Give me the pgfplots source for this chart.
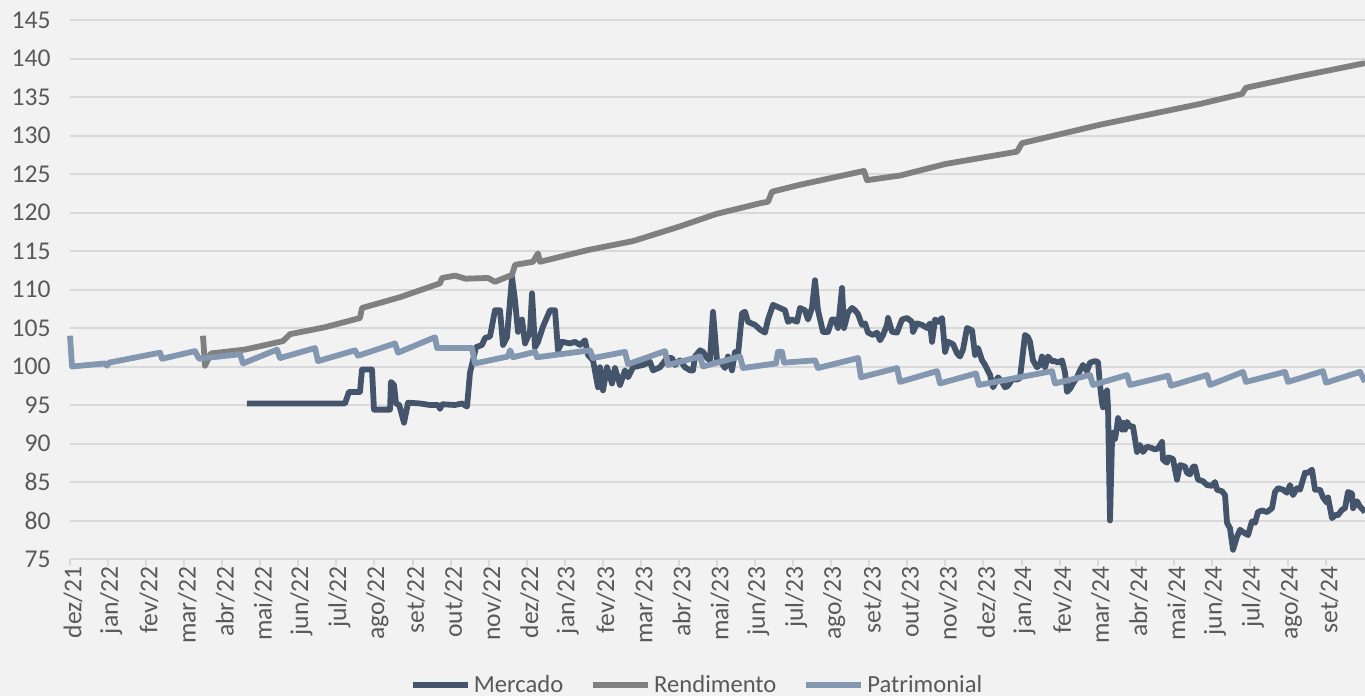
\documentclass[border=0pt]{standalone}
\usepackage{fontspec}
\setmainfont{Carlito}
\usepackage{pgfplots}
\pgfplotsset{compat=1.18}
\definecolor{bgc}{HTML}{F2F2F2}
\definecolor{gridc}{HTML}{D9D9D9}
\definecolor{txtc}{HTML}{595959}
\definecolor{merc}{HTML}{44546A}
\definecolor{rend}{HTML}{808080}
\definecolor{patr}{HTML}{8497B0}
\begin{document}
\begin{tikzpicture}
\path[use as bounding box, fill=bgc] (-35pt,-68.5pt) rectangle (647.5pt,279.5pt);
\begin{axis}[
  scale only axis, width=647.5pt, height=269.5pt,
  xmin=0, xmax=34.025, ymin=75, ymax=145,
  clip=false,
  axis x line*=bottom, axis y line*=left,
  x axis line style={draw=gridc, line width=1pt, -},
  y axis line style={draw=none},
  xtick={0,...,33},
  xticklabels={dez/21,jan/22,fev/22,mar/22,abr/22,mai/22,jun/22,jul/22,ago/22,set/22,out/22,nov/22,dez/22,jan/23,fev/23,mar/23,abr/23,mai/23,jun/23,jul/23,ago/23,set/23,out/23,nov/23,dez/23,jan/24,fev/24,mar/24,abr/24,mai/24,jun/24,jul/24,ago/24,set/24},
  tick align=outside, major tick length=3.5pt,
  xtick style={draw=gridc, line width=1pt},
  ytick={75,80,...,145}, ytick style={draw=none},
  ymajorgrids, grid style={draw=gridc, line width=1pt},
  tick label style={font=\fontsize{12.8}{14}\selectfont, text=txtc},
  /pgf/number format/assume math mode=true,
  xticklabel style={rotate=90, anchor=east, inner sep=0pt, yshift=-1.5pt},
  yticklabel style={anchor=east, inner sep=0pt, xshift=-6pt},
  legend style={at={(axis description cs:0.4846,-0.2338)}, anchor=center, draw=none, fill=none,
    legend columns=3, font=\fontsize{12.3}{14}\selectfont, text=txtc,
    nodes={inner sep=1.5pt},
    /tikz/every even column/.append style={column sep=12pt}},
  legend image code/.code={\draw[#1, line width=3pt] (0pt,0pt) -- (27.5pt,0pt);},
  every axis plot/.append style={line width=2.9pt, line join=round, mark=none},
]
\addplot[merc] coordinates {
(4.650,95.2)(7.225,95.2)(7.330,96.7)(7.619,96.7)(7.672,99.6)(7.935,99.6)(7.987,94.4)(8.408,94.4)(8.434,98.0)(8.513,97.6)(8.565,95.2)(8.65,95.0)(8.776,92.7)(8.881,95.3)(9.196,95.2)(9.459,95.0)(9.669,95.0)(9.721,94.5)(9.774,95.1)(10.115,95.0)(10.299,95.2)(10.431,94.8)(10.510,99.2)(10.588,100.8)(10.667,102.5)(10.825,102.8)(10.904,103.7)(11.035,103.9)(11.166,107.3)(11.298,107.3)(11.377,102.8)(11.482,103.8)(11.613,111.6)(11.692,108.6)(11.771,104.5)(11.876,106.1)(11.955,103.0)(12.086,104.5)(12.139,109.5)(12.217,102.5)(12.296,103.2)(12.428,105.2)(12.612,107.3)(12.743,107.3)(12.822,102.1)(12.927,103.2)(13.137,103.0)(13.268,103.2)(13.400,102.8)(13.531,103.4)(13.610,101.5)(13.741,100.8)(13.873,97.3)(13.925,99.9)
(14.004,96.9)(14.109,99.9)(14.241,97.8)(14.319,99.8)(14.451,97.6)(14.582,99.5)(14.661,98.6)(14.792,99.9)(15.055,100.2)(15.239,100.6)(15.318,99.5)(15.502,99.9)(15.686,101.1)(15.817,101.1)(15.896,100.2)(16.027,100.8)(16.159,99.9)(16.290,99.5)(16.369,99.5)(16.421,101.3)(16.553,102.1)(16.631,101.9)(16.737,101.1)(16.815,100.8)(16.894,107.1)(16.999,100.8)(17.131,100.4)(17.209,99.8)(17.288,101.3)(17.393,99.5)(17.472,101.9)(17.551,101.5)(17.656,106.9)(17.735,107.1)(17.814,105.8)(17.998,105.4)(18.129,104.8)(18.260,104.4)(18.339,106.1)(18.471,108.0)(18.655,107.6)(18.786,107.3)(18.865,105.8)(18.970,106.1)(19.101,105.8)(19.180,107.6)(19.311,107.3)(19.390,106.1)(19.495,107.6)(19.574,111.2)(19.653,107.3)(19.784,104.5)
(19.916,104.5)(20.021,106.1)(20.100,106.1)(20.179,105.0)(20.284,110.2)(20.337,105.0)(20.442,107.0)(20.547,107.6)(20.625,107.3)(20.704,106.8)(20.809,105.4)(20.888,105.6)(20.967,104.4)(21.098,104.1)(21.204,104.4)(21.283,103.4)(21.362,104.1)(21.466,105.4)(21.493,106.3)(21.598,104.5)(21.729,104.4)(21.860,106.1)(21.992,106.3)(22.123,105.8)(22.150,104.5)(22.255,105.6)(22.386,105.4)(22.518,105.0)(22.596,105.6)(22.649,103.2)(22.728,106.1)(22.807,105.8)(22.912,106.3)(22.991,101.9)(23.069,103.2)(23.201,102.9)(23.306,101.7)(23.385,101.3)(23.463,102.2)(23.568,105.0)(23.700,104.7)(23.779,101.5)(23.858,102.4)(23.963,100.8)(24.042,100.2)(24.173,98.9)(24.252,97.3)(24.383,98.6)(24.488,98.0)(24.566,97.3)(24.645,97.5)(24.750,98.3)(24.881,98.3)(24.960,98.5)
(25.092,104.1)(25.170,103.8)(25.223,103.2)(25.302,100.8)(25.407,99.9)(25.486,100.2)(25.538,101.3)(25.617,99.9)(25.696,101.3)(25.801,100.7)(25.880,100.7)(25.959,100.5)(26.064,100.8)(26.143,99.2)(26.195,96.7)(26.274,97.1)(26.353,97.8)(26.458,98.6)(26.538,99.5)(26.616,100.2)(26.721,99.4)(26.800,100.5)(26.931,100.7)(27.010,100.6)(27.062,97.6)(27.115,95.3)(27.141,94.7)(27.194,96.0)(27.247,96.9)(27.273,94.7)(27.325,80.0)(27.378,90.5)(27.404,91.4)(27.457,90.6)(27.510,92.2)(27.536,93.3)(27.641,91.8)(27.667,92.7)(27.720,91.8)(27.773,92.8)(27.851,92.2)(27.930,92.2)(28.035,88.9)(28.114,89.8)(28.193,88.9)(28.297,89.6)(28.429,89.4)(28.508,89.2)(28.587,89.4)(28.692,90.2)(28.718,87.9)(28.823,87.5)(28.849,88.2)(28.980,88.0)(29.033,86.6)(29.085,85.3)(29.164,87.2)(29.296,87.0)(29.348,86.2)
(29.427,86.0)(29.506,87.0)(29.558,87.0)(29.637,85.3)(29.768,85.1)(29.874,84.6)(30.005,84.5)(30.084,85.0)(30.136,84.0)(30.268,83.8)(30.347,83.3)(30.399,79.7)(30.478,79.0)(30.557,76.2)(30.662,77.9)(30.741,78.8)(30.819,78.5)(30.951,78.1)(31.056,79.9)(31.135,79.7)(31.214,81.1)(31.319,81.3)(31.450,81.1)(31.581,81.6)(31.660,83.7)(31.739,84.2)(31.871,84.0)(31.976,83.6)(32.054,84.6)(32.133,83.3)(32.238,84.2)(32.317,84.0)(32.448,86.2)(32.527,86.2)(32.632,86.6)(32.711,84.0)(32.843,84.0)(32.921,83.0)(33.026,82.3)(33.053,83.0)(33.158,80.3)(33.237,80.7)(33.315,80.7)(33.421,81.4)(33.500,81.6)(33.578,83.7)(33.683,83.5)(33.710,81.6)(33.815,82.5)(33.894,81.8)(34.025,81.1)
};
\addlegendentry{Mercado}
\addplot[rend] coordinates {
(3.494,104.0)(3.547,100.1)(3.705,101.7)(4.6,102.2)(5.596,103.3)(5.780,104.2)(6.7,105.1)(7.619,106.3)(7.672,107.6)(8.670,109.0)(9.721,110.8)(9.774,111.5)(10.115,111.8)(10.4,111.4)(10.982,111.5)(11.166,111.0)(11.613,111.9)(11.692,113.2)(12.165,113.6)(12.296,114.7)(12.349,113.6)(13.583,115.1)(14.8,116.3)(16.027,118.2)(16.973,119.8)(18.129,121.2)(18.339,121.4)(18.444,122.7)(19.180,123.6)(20.862,125.4)(20.940,124.2)(21.807,124.8)(23.0,126.3)(24.881,127.9)(25.013,129.0)(27.062,131.4)(29.690,134.1)(30.793,135.4)(30.898,136.2)(32.317,137.7)(34.025,139.4)
};
\addlegendentry{Rendimento}
\addplot[patr] coordinates {
(0,104.0)(0.053,100.0)(0.920,100.4)(0.972,100.1)(1.025,100.5)(2.365,101.8)(2.417,101.0)(3.284,102.0)(3.389,101.0)(4.467,101.6)(4.545,100.4)(5.439,102.2)(5.518,101.1)(6.437,102.4)(6.516,100.7)(7.488,102.1)(7.567,101.4)(8.539,103.0)(8.618,101.8)(9.590,103.8)(9.643,102.4)(10.562,102.4)(10.641,100.4)(11.508,101.3)(11.561,102.1)(11.640,101.2)(12.218,101.9)(12.270,101.2)(13.663,102.1)(13.742,101.1)(14.583,101.9)(14.661,100.3)(15.633,102.0)(15.712,100.2)(16.553,101.3)(16.632,100.0)(17.604,101.3)(17.682,99.8)(18.549,100.4)(18.602,101.9)(18.707,101.9)(18.760,100.5)(19.574,100.8)(19.653,99.8)(20.704,101.1)(20.783,98.6)(21.729,99.8)(21.807,98.0)(22.780,99.4)(22.858,97.8)(23.804,99.1)(23.883,97.6)(25.801,99.4)(25.880,97.8)(26.799,98.9)(26.878,97.6)(27.772,98.9)(27.850,97.6)(28.849,98.8)(28.928,97.5)(29.874,98.9)(29.952,97.6)(30.819,99.3)(30.898,98.0)(31.923,99.3)(32.002,98.0)(32.921,99.4)(33.000,97.9)(33.893,99.3)(34.025,98.0)
};
\addlegendentry{Patrimonial}
\end{axis}
\end{tikzpicture}
\end{document}
